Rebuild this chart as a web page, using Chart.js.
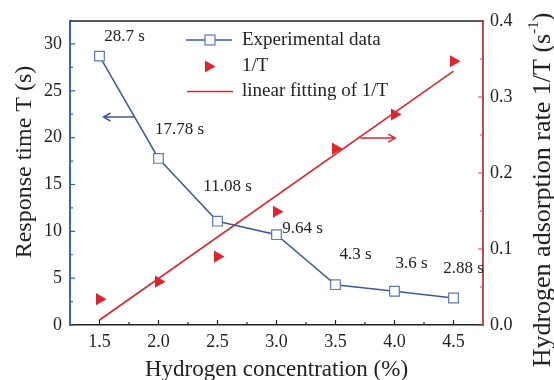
<!DOCTYPE html>
<html>
<head>
<meta charset="utf-8">
<script src="https://cdn.jsdelivr.net/npm/chart.js@4.4.1/dist/chart.umd.min.js"></script>
<style>
  html, body { margin: 0; padding: 0; background: #fff; }
  #wrap { width: 554px; height: 380px; }
</style>
</head>
<body>
<div id="wrap"><canvas id="chart"></canvas></div>
<script>
// hydrogen concentration (%) and the measured response
var concentration = [1.5, 2.0, 2.5, 3.0, 3.5, 4.0, 4.5];
var responseTime = [28.7, 17.78, 11.08, 9.64, 4.3, 3.6, 2.88];
var adsorptionRate = [0.034, 0.057, 0.090, 0.149, 0.232, 0.277, 0.347];
// end points of the fitted line
var fitConcentration = [1.5, 4.5];
var fitRate = [0.0066, 0.334];

var xTicks = [1.5, 2.0, 2.5, 3.0, 3.5, 4.0, 4.5];
var leftTicks = [0, 5, 10, 15, 20, 25, 30];
var rightTicks = [0.0, 0.1, 0.2, 0.3, 0.4];

var seriesNames = ['Experimental data', '1/T', 'linear fitting of 1/T'];
var xTitle = 'Hydrogen concentration (%)';
var leftTitle = 'Response time T (s)';
var rightTitle = 'Hydrogen adsorption rate 1/T (s';

// label placement relative to each point, in px
var labelOffsets = [[25, -20], [21, -29], [10, -35], [26, -6], [20, -30], [17, -28], [10, -29]];

var serif = "'Liberation Serif', 'Times New Roman', serif";
var blueAxis = '#2f66c4';
var blueLine = '#3d5b98';
var blueMarker = '#5a78b4';
var red = '#e2232b';
var redAxis = '#c9464b';
var dark = '#222';

Chart.defaults.font.family = serif;
Chart.defaults.color = dark;

function points(xs, ys) {
  return xs.map(function (x, i) { return { x: x, y: ys[i] }; });
}

function setTicks(values) {
  return function (scale) {
    scale.ticks = values.map(function (v) { return { value: v }; });
  };
}

function minorValues(ticks, min, max) {
  var step = ticks[1] - ticks[0];
  var out = [];
  for (var v = ticks[0] - step / 2; v < max - 1e-9; v += step) {
    if (v > min + 1e-9) out.push(v);
  }
  return out;
}

function arrow(ctx, x1, y1, x2, y2, color) {
  var dir = x2 > x1 ? 1 : -1;
  ctx.strokeStyle = color;
  ctx.lineWidth = 1.5;
  ctx.beginPath();
  ctx.moveTo(x1, y1);
  ctx.lineTo(x2, y2);
  ctx.moveTo(x2 - dir * 7, y2 - 4);
  ctx.lineTo(x2, y2);
  ctx.lineTo(x2 - dir * 7, y2 + 4);
  ctx.stroke();
}

var decor = {
  id: 'decor',
  afterDraw: function (chart) {
    var ctx = chart.ctx;
    var area = chart.chartArea;
    var sx = chart.scales.x, sy = chart.scales.y, sy1 = chart.scales.y1;
    ctx.save();

    // top frame line
    ctx.strokeStyle = dark;
    ctx.lineWidth = 1.5;
    ctx.beginPath();
    ctx.moveTo(area.left, area.top);
    ctx.lineTo(area.right, area.top);
    ctx.stroke();

    // inward ticks, major and minor
    ctx.lineWidth = 1.2;
    ctx.strokeStyle = dark;
    ctx.beginPath();
    xTicks.forEach(function (v) {
      var px = sx.getPixelForValue(v);
      ctx.moveTo(px, area.bottom); ctx.lineTo(px, area.bottom - 5);
    });
    minorValues(xTicks, sx.min, sx.max).forEach(function (v) {
      var px = sx.getPixelForValue(v);
      ctx.moveTo(px, area.bottom); ctx.lineTo(px, area.bottom - 3);
    });
    ctx.stroke();

    ctx.strokeStyle = blueAxis;
    ctx.beginPath();
    leftTicks.forEach(function (v) {
      var py = sy.getPixelForValue(v);
      ctx.moveTo(area.left, py); ctx.lineTo(area.left + 5, py);
    });
    minorValues(leftTicks, sy.min, sy.max).forEach(function (v) {
      var py = sy.getPixelForValue(v);
      ctx.moveTo(area.left, py); ctx.lineTo(area.left + 3, py);
    });
    ctx.stroke();

    ctx.strokeStyle = redAxis;
    ctx.beginPath();
    rightTicks.forEach(function (v) {
      var py = sy1.getPixelForValue(v);
      ctx.moveTo(area.right, py); ctx.lineTo(area.right - 5, py);
    });
    minorValues(rightTicks, sy1.min, sy1.max).forEach(function (v) {
      var py = sy1.getPixelForValue(v);
      ctx.moveTo(area.right, py); ctx.lineTo(area.right - 3, py);
    });
    ctx.stroke();

    // arrows pointing to the matching axis
    arrow(ctx, sx.getPixelForValue(1.80), sy.getPixelForValue(22.2),
      sx.getPixelForValue(1.534), sy.getPixelForValue(22.2), blueLine);
    arrow(ctx, sx.getPixelForValue(3.71), sy1.getPixelForValue(0.246),
      sx.getPixelForValue(4.006), sy1.getPixelForValue(0.246), red);

    // value labels above the response points
    ctx.fillStyle = dark;
    ctx.font = '17px ' + serif;
    ctx.textAlign = 'center';
    ctx.textBaseline = 'middle';
    chart.getDatasetMeta(0).data.forEach(function (pt, i) {
      var off = labelOffsets[i];
      ctx.fillText(responseTime[i] + ' s', pt.x + off[0], pt.y + off[1]);
    });

    // legend
    var ds = chart.data.datasets;
    var rows = [40, 66.5, 91.5];
    ctx.font = '19px ' + serif;
    ctx.textAlign = 'left';
    ds.forEach(function (d, i) {
      var y = rows[i];
      if (i === 0) {
        ctx.strokeStyle = d.borderColor; ctx.lineWidth = 1.5;
        ctx.beginPath(); ctx.moveTo(186, y); ctx.lineTo(232, y); ctx.stroke();
        ctx.fillStyle = '#fff'; ctx.strokeStyle = d.pointBorderColor; ctx.lineWidth = 1.2;
        ctx.fillRect(205, y - 5, 10, 10); ctx.strokeRect(205, y - 5, 10, 10);
      } else if (i === 1) {
        ctx.fillStyle = d.backgroundColor;
        ctx.beginPath(); ctx.moveTo(215.5, y); ctx.lineTo(205, y - 6); ctx.lineTo(205, y + 6); ctx.closePath(); ctx.fill();
      } else {
        ctx.strokeStyle = d.borderColor; ctx.lineWidth = 1.5;
        ctx.beginPath(); ctx.moveTo(187, y); ctx.lineTo(233, y); ctx.stroke();
      }
      ctx.fillStyle = dark;
      ctx.fillText(d.label, 242, y);
    });

    // left axis title, reading upward
    ctx.save();
    ctx.translate(25, 162);
    ctx.rotate(-Math.PI / 2);
    ctx.textAlign = 'center';
    ctx.font = '24px ' + serif;
    ctx.fillText(leftTitle, 0, 0);
    ctx.restore();

    // right axis title, reading upward, with superscript
    ctx.textAlign = 'left';
    ctx.translate(543, 190);
    ctx.rotate(-Math.PI / 2);
    ctx.font = '26px ' + serif;
    var mainW = ctx.measureText(rightTitle).width;
    ctx.font = '15px ' + serif;
    var supW = ctx.measureText('-1').width;
    ctx.font = '26px ' + serif;
    var closeW = ctx.measureText(')').width;
    var x0 = -(mainW + supW + closeW) / 2;
    ctx.fillStyle = dark;
    ctx.fillText(rightTitle, x0, 0);
    ctx.font = '15px ' + serif;
    ctx.fillText('-1', x0 + mainW, -9);
    ctx.font = '26px ' + serif;
    ctx.fillText(')', x0 + mainW + supW, 0);

    ctx.restore();
  }
};

new Chart(document.getElementById('chart'), {
  type: 'line',
  data: {
    datasets: [{
      label: seriesNames[0],
      data: points(concentration, responseTime),
      yAxisID: 'y',
      borderColor: blueLine,
      borderWidth: 1.5,
      pointStyle: 'rect',
      pointRadius: 6.8,
      pointBackgroundColor: '#fff',
      pointBorderColor: blueMarker,
      pointBorderWidth: 1.2,
      tension: 0
    }, {
      label: seriesNames[1],
      data: points(concentration, adsorptionRate),
      yAxisID: 'y1',
      showLine: false,
      pointStyle: 'triangle',
      rotation: 90,
      pointRadius: 7,
      backgroundColor: red,
      borderColor: red,
      borderWidth: 0
    }, {
      label: seriesNames[2],
      data: points(fitConcentration, fitRate),
      yAxisID: 'y1',
      borderColor: red,
      borderWidth: 1.6,
      pointRadius: 0
    }]
  },
  options: {
    responsive: true,
    maintainAspectRatio: false,
    animation: false,
    layout: { padding: { top: 21, left: 0, right: 0, bottom: 0 } },
    plugins: { legend: { display: false }, tooltip: { enabled: false } },
    scales: {
      x: {
        type: 'linear',
        min: 1.25,
        max: 4.75,
        afterBuildTicks: setTicks(xTicks),
        afterFit: function (scale) { scale.height = 55; },
        grid: { display: false, drawTicks: false },
        border: { display: true, color: dark, width: 1.5 },
        ticks: {
          padding: 6,
          font: { size: 18 },
          callback: function (v) { return v.toFixed(1); }
        },
        title: {
          display: true,
          text: xTitle,
          font: { size: 23, lineHeight: 1 },
          padding: { top: 0, bottom: -1 }
        }
      },
      y: {
        position: 'left',
        min: 0,
        max: 32.45,
        afterBuildTicks: setTicks(leftTicks),
        afterFit: function (scale) { scale.width = 70; },
        grid: { display: false, drawTicks: false },
        border: { display: true, color: blueAxis, width: 2 },
        ticks: { padding: 8, font: { size: 18 } }
      },
      y1: {
        position: 'right',
        min: 0,
        max: 0.4,
        afterBuildTicks: setTicks(rightTicks),
        afterFit: function (scale) { scale.width = 71; },
        grid: { display: false, drawTicks: false },
        border: { display: true, color: redAxis, width: 2 },
        ticks: {
          padding: 7,
          font: { size: 18 },
          callback: function (v) { return v.toFixed(1); }
        }
      }
    }
  },
  plugins: [decor]
});
</script>
</body>
</html>
